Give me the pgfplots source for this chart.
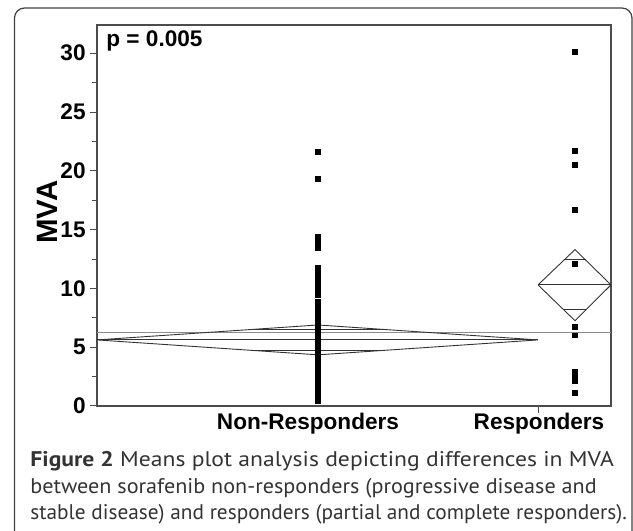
\documentclass[border=0pt]{standalone}
\usepackage{pgfplots}
\pgfplotsset{compat=1.18}
\usepackage{fontspec}
\setmainfont{Liberation Sans}
\newfontfamily\capfont{PT Sans}
\pgfplotstableread{
x y
0.43 21.6
0.43 19.3
0.43 14.4
0.43 14.1
0.43 13.7
0.43 13.4
0.43 11.8
0.43 11.5
0.43 11.1
0.43 10.8
0.43 10.4
0.43 10.1
0.43 9.8
0.43 9.4
0.43 8.9
0.43 8.7
0.43 8.5
0.43 8.3
0.43 8.1
0.43 7.9
0.43 7.7
0.43 7.5
0.43 7.3
0.43 7.1
0.43 6.9
0.43 6.7
0.43 6.5
0.43 6.3
0.43 6.1
0.43 5.9
0.43 5.7
0.43 5.5
0.43 5.3
0.43 5.1
0.43 4.95
0.43 4.8
0.43 4.65
0.43 4.5
0.43 4.35
0.43 4.2
0.43 4.05
0.43 3.9
0.43 3.75
0.43 3.6
0.43 3.45
0.43 3.3
0.43 3.15
0.43 3.0
0.43 2.85
0.43 2.7
0.43 2.55
0.43 2.4
0.43 2.25
0.43 2.1
0.43 1.95
0.43 1.8
0.43 1.65
0.43 1.5
0.43 1.35
0.43 1.2
0.43 1.05
0.43 0.9
0.43 0.75
0.43 0.6
0.43 0.45
}\nonresp
\pgfplotstableread{
x y
0.93 30.1
0.93 21.7
0.93 20.5
0.93 16.7
0.93 12.1
0.93 6.7
0.93 6.0
0.93 2.9
0.93 2.5
0.93 2.1
0.93 1.1
}\resp
\begin{document}
\begin{tikzpicture}
\useasboundingbox (0,0) rectangle (316.5pt,265.5pt);
\draw[black!75, line width=0.6pt, rounded corners=5pt] (7.25pt,-8pt) rectangle (316pt,261.5pt);
\begin{axis}[
  at={(48.5pt,62.5pt)}, anchor=south west,
  scale only axis, width=257pt, height=190.5pt,
  xmin=0, xmax=1, ymin=0, ymax=32.4,
  axis line style={black!70, line width=0.6pt},
  ytick={0,5,...,30}, minor ytick={2.5,7.5,...,27.5},
  xtick={0.858}, xticklabels={},
  tick pos=left,
  tick align=outside, major tick length=3.5pt, minor tick length=2.5pt,
  tick style={black!70, line width=0.5pt},
  /pgf/number format/assume math mode=true,
  yticklabel={\bfseries\fontsize{11.3}{13}\selectfont\pgfmathprintnumber{\tick}},
  yticklabel style={inner sep=0pt, anchor=east, xshift=-2pt},
]
\addplot[only marks, mark=square*, mark size=1.15pt, black] table[x=x,y=y] {\nonresp};
\addplot[only marks, mark=square*, mark size=1.2pt, black] table[x=x,y=y] {\resp};
% grand mean
\addplot[black!45, line width=0.5pt] coordinates {(0,6.23) (1,6.23)};
% non-responders means diamond
\addplot[black!80, line width=0.45pt] coordinates {(0,5.62) (0.43,6.89) (0.858,5.62) (0.43,4.35) (0,5.62)};
\addplot[black!80, line width=0.45pt] coordinates {(0,5.62) (0.858,5.62)};
\addplot[black!80, line width=0.45pt] coordinates {(0.304,6.52) (0.556,6.52)};
\addplot[black!80, line width=0.45pt] coordinates {(0.304,4.72) (0.556,4.72)};
% responders means diamond
\addplot[black!80, line width=0.45pt] coordinates {(0.858,10.3) (0.93,13.3) (1.0,10.3) (0.93,7.25) (0.858,10.3)};
\addplot[black!80, line width=0.45pt] coordinates {(0.858,10.3) (1.0,10.3)};
\addplot[black!80, line width=0.45pt] coordinates {(0.909,12.42) (0.951,12.42)};
\addplot[black!80, line width=0.45pt] coordinates {(0.909,8.18) (0.951,8.18)};
\end{axis}
\node[anchor=base west, inner sep=0pt, font=\bfseries\fontsize{11.3}{13}\selectfont] at (53pt,242.25pt) {p = 0.005};
\node[rotate=90, inner sep=0pt, font=\bfseries\fontsize{14.7}{16}\selectfont] at (23.5pt,159.5pt) {MVA};
\node[anchor=base, inner sep=0pt, font=\bfseries\fontsize{11.3}{13}\selectfont] at (154pt,50.5pt) {Non-Responders};
\node[anchor=base, inner sep=0pt, font=\bfseries\fontsize{11.3}{13}\selectfont] at (269.5pt,50.5pt) {Responders};
\begin{scope}[every node/.style={anchor=base west, inner sep=0pt, text=black!80, font=\capfont\fontsize{10.6}{12}\selectfont}]
\node at (15pt,32.15pt) {\scalebox{1.115}[1]{\textbf{Figure 2} Means plot analysis depicting differences in MVA}};
\node at (15pt,19pt) {\scalebox{1.045}[1]{between sorafenib non-responders (progressive disease and}};
\node at (15pt,5.5pt) {\scalebox{1.005}[1]{stable disease) and responders (partial and complete responders).}};
\end{scope}
\end{tikzpicture}
\end{document}
